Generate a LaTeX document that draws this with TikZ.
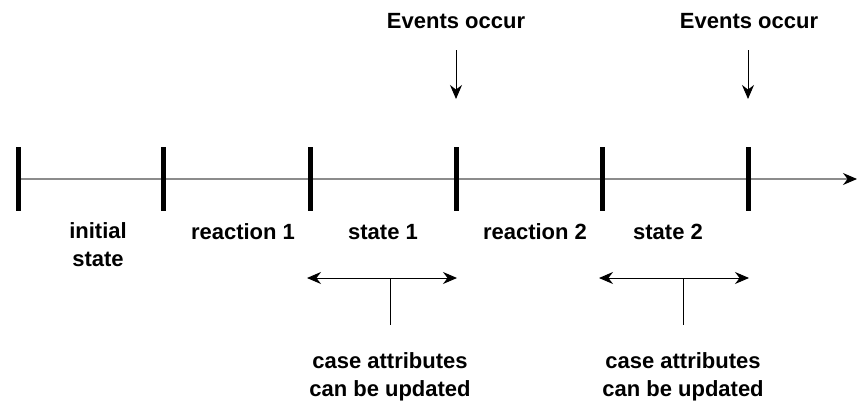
\documentclass[tikz,border=0pt]{standalone}
\usepackage{fontspec}
\setmainfont{Liberation Sans}
\usetikzlibrary{arrows.meta}
\begin{document}
\begin{tikzpicture}[x=1pt,y=-1pt,
  lbl/.style={font=\fontsize{22}{27.5}\selectfont\bfseries, align=center, inner sep=0pt, anchor=base},
  tick/.style={line width=5pt},
  axis/.style={draw=black!45, line width=1.3pt, -{Stealth[length=14pt,width=12pt,black]}},
  arr/.style={line width=1pt, -{Stealth[length=14pt,width=12pt]}},
  darr/.style={line width=1pt, {Stealth[length=14pt,width=12pt]}-{Stealth[length=14pt,width=12pt]}},
  stem/.style={line width=1pt}]
\useasboundingbox (0,0) rectangle (857,407);
% axis
\coordinate (a0) at (18,179);
\coordinate (aend) at (857,179);
\draw[axis] (a0) -- (aend);
% ticks
\foreach \n/\x in {t0/18,t1/163,t2/310,t3/456,t4/602,t5/748}{
  \coordinate (\n top) at (\x,147);
  \coordinate (\n bot) at (\x,211);
  \draw[tick] (\n top) -- (\n bot);
}
% labels
\node[lbl] (l0) at (98,266) {initial\\state};
\node[lbl] (l1) at (243,239) {reaction 1};
\node[lbl] (l2) at (383,239) {state 1};
\node[lbl] (l3) at (535,239) {reaction 2};
\node[lbl] (l4) at (668,239) {state 2};
% events
\node[lbl] (e1) at (456,28) {Events occur};
\node[lbl] (e2) at (749,28) {Events occur};
\coordinate (e1s) at (456,50); \coordinate (e1t) at (456,99);
\coordinate (e2s) at (748,50); \coordinate (e2t) at (748,99);
\draw[arr] (e1s) -- (e1t);
\draw[arr] (e2s) -- (e2t);
% double arrows
\coordinate (d1l) at (307,278); \coordinate (d1r) at (457,278);
\coordinate (d2l) at (599,278); \coordinate (d2r) at (749,278);
\draw[darr] (d1l) -- (d1r);
\draw[darr] (d2l) -- (d2r);
\coordinate (s1t) at (390,278); \coordinate (s1b) at (390,325);
\coordinate (s2t) at (683,278); \coordinate (s2b) at (683,325);
\draw[stem] (s1t) -- (s1b);
\draw[stem] (s2t) -- (s2b);
% case attributes
\node[lbl] (c1) at (390,396) {case attributes\\can be updated};
\node[lbl] (c2) at (683,396) {case attributes\\can be updated};
\end{tikzpicture}
\end{document}
